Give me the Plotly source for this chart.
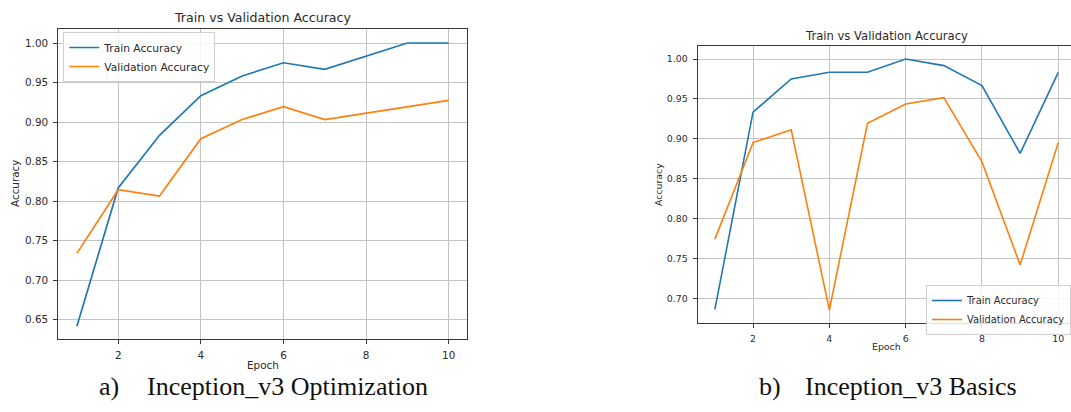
import plotly.graph_objects as go

W, H = 1071, 412

# ---------------- data ----------------
epochs = [1, 2, 3, 4, 5, 6, 7, 8, 9, 10]

opt_train = [0.6417, 0.8167, 0.8833, 0.9333, 0.9583, 0.9750, 0.9667, 0.9833, 1.0000, 1.0000]
opt_val = [0.7339, 0.8145, 0.8065, 0.8790, 0.9032, 0.9194, 0.9032, 0.9113, 0.9194, 0.9274]

basic_train = [0.6860, 0.9333, 0.9750, 0.9833, 0.9833, 1.0000, 0.9917, 0.9667, 0.8817, 0.9833]
basic_val = [0.7742, 0.8952, 0.9113, 0.6855, 0.9194, 0.9435, 0.9516, 0.8710, 0.7419, 0.8952]

series_names = ["Train Accuracy", "Validation Accuracy"]
x_ticks = [2, 4, 6, 8, 10]
y_ticks_a = [0.65, 0.70, 0.75, 0.80, 0.85, 0.90, 0.95, 1.00]
y_ticks_b = [0.70, 0.75, 0.80, 0.85, 0.90, 0.95, 1.00]
chart_title = "Train vs Validation Accuracy"
x_label = "Epoch"
y_label = "Accuracy"
captions = [("a)", "Inception_v3 Optimization"), ("b)", "Inception_v3 Basics")]

BLUE = "#1f77b4"
ORANGE = "#ff7f0e"
SPINE = "#3a3a3a"
GRID = "#c4c4c4"
TXT = "#2a2a2a"


def px(x):
    return x / W


def py(y):
    return 1 - y / H


fig = go.Figure()

# left chart
fig.add_trace(go.Scatter(x=epochs, y=opt_train, mode="lines", name=series_names[0],
                         line=dict(color=BLUE, width=1.7), xaxis="x", yaxis="y", legend="legend"))
fig.add_trace(go.Scatter(x=epochs, y=opt_val, mode="lines", name=series_names[1],
                         line=dict(color=ORANGE, width=1.7), xaxis="x", yaxis="y", legend="legend"))
# right chart
fig.add_trace(go.Scatter(x=epochs, y=basic_train, mode="lines", name=series_names[0],
                         line=dict(color=BLUE, width=1.6), xaxis="x2", yaxis="y2", legend="legend2"))
fig.add_trace(go.Scatter(x=epochs, y=basic_val, mode="lines", name=series_names[1],
                         line=dict(color=ORANGE, width=1.6), xaxis="x2", yaxis="y2", legend="legend2"))

common = dict(showgrid=True, gridcolor=GRID, gridwidth=1, zeroline=False,
              showline=True, linecolor=SPINE, linewidth=1.2,
              ticks="outside", ticklen=4, tickwidth=1, tickcolor=SPINE,
              ticklabelstandoff=3, automargin=False)

fig.update_layout(
    width=W, height=H,
    margin=dict(l=0, r=0, t=0, b=0, autoexpand=False),
    paper_bgcolor="white", plot_bgcolor="white",
    font=dict(family="DejaVu Sans", color=TXT),
    xaxis=dict(domain=[px(58.3), px(467.3)], range=[0.55, 10.45], tickvals=x_ticks,
               mirror=True, anchor="y", tickfont=dict(size=10.4), **common),
    yaxis=dict(domain=[py(338.7), py(28.7)], range=[0.626, 1.0181], tickvals=y_ticks_a,
               tickformat=".2f", mirror=True, anchor="x", tickfont=dict(size=10.4), **common),
    xaxis2=dict(domain=[px(697.7), 1.0], range=[0.55, 10.333], tickvals=x_ticks,
                mirror=True, anchor="y2", tickfont=dict(size=9.4), **common),
    yaxis2=dict(domain=[py(322.7), py(46)], range=[0.6694, 1.0163], tickvals=y_ticks_b,
                tickformat=".2f", mirror=False, anchor="x2", tickfont=dict(size=9.4), **common),
    legend=dict(x=px(63.3), y=py(32), xanchor="left", yanchor="top",
                bgcolor="rgba(255,255,255,0.85)", bordercolor="#d0d0d0", borderwidth=1,
                font=dict(size=10.7, color=TXT), tracegroupgap=0, itemwidth=30),
    legend2=dict(x=1.0, y=py(285), xanchor="right", yanchor="top",
                 bgcolor="rgba(255,255,255,0.85)", bordercolor="#d0d0d0", borderwidth=1,
                 font=dict(size=9.9, color=TXT), tracegroupgap=0, itemwidth=30),
)

ann = []
# titles
ann.append(dict(text=chart_title, x=px(262.8), y=py(17.3), font=dict(size=12.6)))
ann.append(dict(text=chart_title, x=px(886.5), y=py(36), font=dict(size=11.6)))
# x labels
ann.append(dict(text=x_label, x=px(262.7), y=py(365), font=dict(size=10.4)))
ann.append(dict(text=x_label, x=px(886), y=py(346.7), font=dict(size=9.4)))
# y labels
ann.append(dict(text=y_label, x=px(15), y=py(184), textangle=-90, font=dict(size=10.4)))
ann.append(dict(text=y_label, x=px(658), y=py(185), textangle=-90, font=dict(size=9.4)))
for a in ann:
    a.update(xref="paper", yref="paper", showarrow=False, xanchor="center", yanchor="middle")

cap_font = dict(family="Liberation Serif", size=26, color="#111")
cap_pos = [(96.7, 145.0), (756.7, 803.3)]
for (lab, txt), (xl, xt) in zip(captions, cap_pos):
    ann.append(dict(text=lab, x=px(xl), y=py(386), xref="paper", yref="paper", showarrow=False,
                    xanchor="left", yanchor="middle", font=cap_font))
    ann.append(dict(text=txt, x=px(xt), y=py(386), xref="paper", yref="paper", showarrow=False,
                    xanchor="left", yanchor="middle", font=cap_font))

fig.update_layout(annotations=ann)
fig.write_html("out.html")
